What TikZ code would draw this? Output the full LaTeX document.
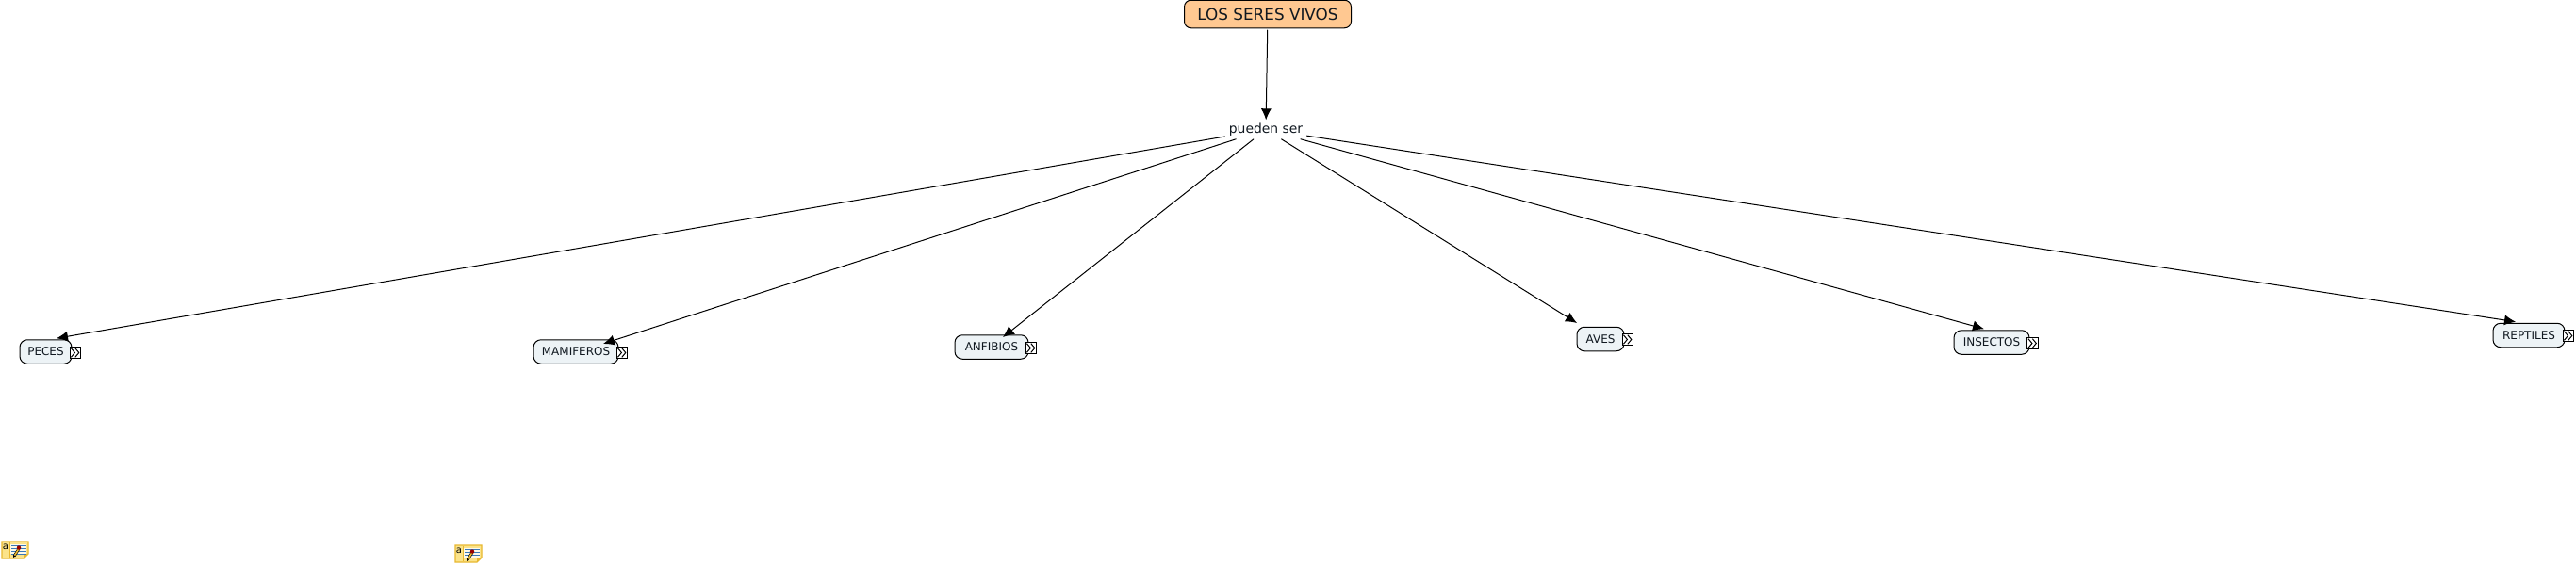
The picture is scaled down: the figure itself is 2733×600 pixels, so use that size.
\documentclass[tikz,border=0pt]{standalone}
\usepackage{fontspec}
\setmainfont{DejaVu Sans}
\usetikzlibrary{arrows.meta}
\definecolor{rootfill}{HTML}{FFC891}
\definecolor{conceptfill}{HTML}{EDF3F6}
\definecolor{inktext}{HTML}{101820}
\definecolor{notegold}{HTML}{E8B830}
\definecolor{notepale}{HTML}{FBE38A}
\definecolor{noteblue}{HTML}{3A78B8}
\tikzset{
  x=1pt,y=-1pt,
  rootbox/.style={draw=black,line width=1pt,rounded corners=7pt,fill=rootfill,text=inktext,
    minimum width=177pt,minimum height=29.5pt,inner sep=0pt,outer sep=2pt,font=\fontsize{16.8}{20}\selectfont},
  linkbox/.style={minimum width=86pt,minimum height=20pt,inner sep=0pt,text=inktext,font=\fontsize{13.9}{16}\selectfont},
  conceptbox/.style={draw=black,line width=1pt,rounded corners=8pt,fill=conceptfill,text=inktext,
    minimum height=25.5pt,inner sep=0pt,outer sep=1.5pt,font=\fontsize{12}{14}\selectfont},
  conn/.style={draw=black,line width=1pt,-{Latex[length=12pt,width=11pt]}},
  expandbox/.style={draw=black,line width=0.9pt,fill=white,minimum width=11.5pt,minimum height=11.5pt,inner sep=0pt},
  chev/.style={draw=black,line width=1pt,line join=miter},
  noteicon/.pic={
    \fill[notepale,draw=notegold,line width=1.3pt] (1,0) -- (29,0) -- (29,13) -- (24,18) -- (1,18) -- cycle;
    \fill[notegold] (24,18) -- (24,13) -- (29,13) -- cycle;
    \fill[white!80!notepale] (10,3) rectangle (27,13);
    \draw[notegold,line width=1pt] (9,1) -- (9,17);
    \node[inner sep=0pt,text=black,font=\fontsize{10}{10}\selectfont] (-letter) at (5,6) {a};
    \foreach \yy in {4,7,10,13} \draw[noteblue,line width=1pt] (11,\yy) -- (27,\yy);
    \draw[black,line width=2.8pt] (14,15.5) -- (20,6);
    \draw[notegold,line width=1.6pt] (14,15.5) -- (20,6);
    \fill[black] (13,17) -- (13.2,14) -- (15.5,15.5) -- cycle;
    \fill[red!60!black] (19,6.5) circle (2.2pt);
  }
}
\newcommand{\expander}[2]{%
  \node[expandbox] (#1) at (#2) {};
  \draw[chev] ([xshift=-4.6pt,yshift=4.8pt]#1.center) -- ([xshift=-0.6pt]#1.center) -- ([xshift=-4.6pt,yshift=-4.8pt]#1.center);
  \draw[chev] ([xshift=-0.2pt,yshift=4.8pt]#1.center) -- ([xshift=3.8pt]#1.center) -- ([xshift=-0.2pt,yshift=-4.8pt]#1.center);
}
\begin{document}
\begin{tikzpicture}
\useasboundingbox[fill=white] (0,0) rectangle (2733,600);
\node[rootbox] (root) at (1345,15) {LOS SERES VIVOS};
\node[linkbox] (pueden) at (1343,137.5) {pueden ser};
\node[conceptbox,minimum width=55pt] (peces) at (48.5,373.5) {PECES};
\node[conceptbox,minimum width=90pt] (mamiferos) at (611,373.5) {MAMIFEROS};
\node[conceptbox,minimum width=78pt] (anfibios) at (1052,368.5) {ANFIBIOS};
\node[conceptbox,minimum width=50pt] (aves) at (1698,360) {AVES};
\node[conceptbox,minimum width=80pt] (insectos) at (2113,363.5) {INSECTOS};
\node[conceptbox,minimum width=76pt] (reptiles) at (2683,356) {REPTILES};
\expander{xpeces}{80,374.5}
\expander{xmamiferos}{660,374.5}
\expander{xanfibios}{1094,369.5}
\expander{xaves}{1727,360.5}
\expander{xinsectos}{2156.5,364.5}
\expander{xreptiles}{2725,356.5}
\draw[conn] (root) -- (pueden);
\draw[conn] (pueden) -- ([xshift=11.5pt]peces.north);
\draw[conn] (pueden) -- ([xshift=29pt,yshift=-5.75pt]mamiferos.north);
\draw[conn] (pueden) -- ([xshift=12pt,yshift=-3.75pt]anfibios.north);
\draw[conn] (pueden) -- ([xshift=-25pt,yshift=2.75pt]aves.north);
\draw[conn] (pueden) -- ([xshift=-8pt]insectos.north);
\draw[conn] (pueden) -- ([xshift=-14pt]reptiles.north);
\pic (noteA) at (1,575) {noteicon};
\pic (noteB) at (482,579) {noteicon};
\end{tikzpicture}
\end{document}
